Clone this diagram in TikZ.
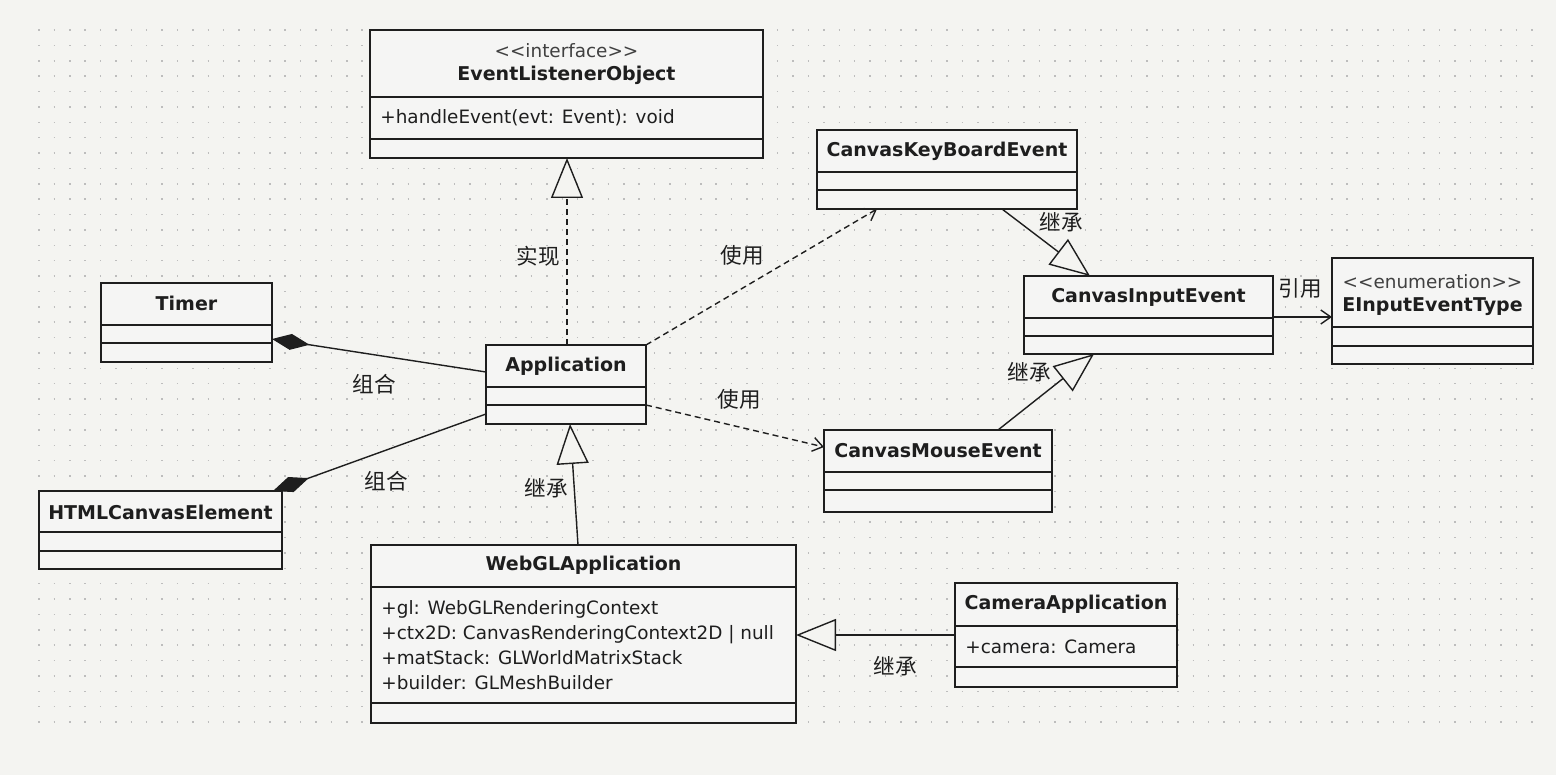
\documentclass[tikz,border=0pt]{standalone}
\usepackage{fontspec}
\setmainfont{DejaVu Sans}[Ligatures=TeXOff]
\newfontfamily\cjkfont{Noto Sans CJK SC}
\usetikzlibrary{arrows.meta,fit}

\definecolor{bgcol}{HTML}{F4F4F1}
\definecolor{boxcol}{HTML}{F5F5F4}
\definecolor{inkcol}{HTML}{1E1E1E}
\definecolor{dotcol}{HTML}{BDBDBD}

\tikzset{
  classbox/.style={draw=inkcol, fill=boxcol, line width=0.9pt, inner sep=0pt, outer sep=0pt},
  divider/.style={draw=inkcol, line width=0.9pt},
  ctitle/.style={font=\fontsize{9.5}{11}\selectfont\bfseries, text=inkcol, inner sep=0pt},
  cstereo/.style={font=\fontsize{9.2}{11}\selectfont, text=inkcol!85, inner sep=0pt},
  cattr/.style={font=\fontsize{9.2}{12.5}\selectfont, text=inkcol, inner sep=0pt, anchor=west, align=left},
  lbl/.style={font=\cjkfont\fontsize{10.8}{12}\selectfont, text=inkcol, inner sep=0pt},
  link/.style={draw=inkcol, line width=0.7pt},
  inherit/.style={link, -{Triangle[length=20pt, width=16pt, fill=bgcol]}},
  realize/.style={inherit, dash pattern=on 3pt off 2pt},
  depend/.style={link, dash pattern=on 3pt off 2pt, -{Straight Barb[length=5pt, width=7pt]}},
  compose/.style={link, -{Diamond[length=19pt, width=8pt]}},
  assoc/.style={link, -{Straight Barb[length=5pt, width=7pt]}}
}

\begin{document}
\begin{tikzpicture}[x=0.5pt, y=-0.5pt]
\fill[bgcol] (0,0) rectangle (1556,775);
\useasboundingbox (0,0) rectangle (1556,775);
\foreach \j in {0,...,45}
  \draw[dotcol, line width=0.75pt, dash pattern=on 0.75pt off 6.945pt] (38.25,{30+15.38*\j}) -- (1534,{30+15.38*\j});

% classes
\node[classbox, fit={(370,30) (763,158)}] (elo) {};
\draw[divider] (elo.west |- 0,97) -- (elo.east |- 0,97);
\draw[divider] (elo.west |- 0,139) -- (elo.east |- 0,139);
\node[cstereo] (eloS) at (566.5,51) {<<interface>>};
\node[ctitle] (eloT) at (566.5,75) {EventListenerObject};
\node[cattr] (eloA) at (380,118) {+handleEvent(evt: Event): void};

\node[classbox, fit={(817,130) (1077,209)}] (key) {};
\draw[divider] (key.west |- 0,172) -- (key.east |- 0,172);
\draw[divider] (key.west |- 0,190) -- (key.east |- 0,190);
\node[ctitle] (keyT) at (947,151) {CanvasKeyBoardEvent};

\node[classbox, fit={(1024,276) (1273,354)}] (input) {};
\draw[divider] (input.west |- 0,318) -- (input.east |- 0,318);
\draw[divider] (input.west |- 0,336) -- (input.east |- 0,336);
\node[ctitle] (inputT) at (1148.5,297) {CanvasInputEvent};

\node[classbox, fit={(1332,258) (1533,364)}] (enum) {};
\draw[divider] (enum.west |- 0,327) -- (enum.east |- 0,327);
\draw[divider] (enum.west |- 0,346) -- (enum.east |- 0,346);
\node[cstereo] (enumS) at (1432.5,282) {<<enumeration>>};
\node[ctitle] (enumT) at (1432.5,307) {EInputEventType};

\node[classbox, fit={(101,283) (272,362)}] (timer) {};
\draw[divider] (timer.west |- 0,325) -- (timer.east |- 0,325);
\draw[divider] (timer.west |- 0,343) -- (timer.east |- 0,343);
\node[ctitle] (timerT) at (186.5,303) {Timer};

\node[classbox, fit={(486,345) (646,424)}] (app) {};
\draw[divider] (app.west |- 0,387) -- (app.east |- 0,387);
\draw[divider] (app.west |- 0,405) -- (app.east |- 0,405);
\node[ctitle] (appT) at (566,366) {Application};

\node[classbox, fit={(824,430) (1052,512)}] (mouse) {};
\draw[divider] (mouse.west |- 0,472) -- (mouse.east |- 0,472);
\draw[divider] (mouse.west |- 0,490) -- (mouse.east |- 0,490);
\node[ctitle] (mouseT) at (938,451) {CanvasMouseEvent};

\node[classbox, fit={(39,491) (282,569)}] (html) {};
\draw[divider] (html.west |- 0,532) -- (html.east |- 0,532);
\draw[divider] (html.west |- 0,551) -- (html.east |- 0,551);
\node[ctitle] (htmlT) at (160.5,512) {HTMLCanvasElement};

\node[classbox, fit={(371,545) (796,723)}] (webgl) {};
\draw[divider] (webgl.west |- 0,587) -- (webgl.east |- 0,587);
\draw[divider] (webgl.west |- 0,703) -- (webgl.east |- 0,703);
\node[ctitle] (webglT) at (583.5,565) {WebGLApplication};
\node[cattr] (webglA) at (381,645.5) {+gl: WebGLRenderingContext\\+ctx2D: CanvasRenderingContext2D | null\\+matStack: GLWorldMatrixStack\\+builder: GLMeshBuilder};

\node[classbox, fit={(955,583) (1177,687)}] (camera) {};
\draw[divider] (camera.west |- 0,626) -- (camera.east |- 0,626);
\draw[divider] (camera.west |- 0,667) -- (camera.east |- 0,667);
\node[ctitle] (cameraT) at (1066,604) {CameraApplication};
\node[cattr] (cameraA) at (965,647) {+camera: Camera};

% relations
\draw[realize] (app.north -| 567,0) -- (elo.south -| 567,0);
\node[lbl] (lblReal) at (538,256) {实现};
\draw[depend] (app.north east) -- (key.south -| 877,0);
\node[lbl] (lblUseKey) at (742,255) {使用};
\draw[depend] (app.east |- 0,405) -- (mouse.west |- 0,447);
\node[lbl] (lblUseMouse) at (739,399) {使用};
\draw[compose] (app.west |- 0,372) -- (timer.east |- 0,339);
\node[lbl] (lblTimer) at (374,384) {组合};
\draw[compose] (app.west |- 0,414) -- (html.north -| 273,0);
\node[lbl] (lblHtml) at (386,481) {组合};
\draw[inherit] (webgl.north -| 578,0) -- (app.south -| 570,0);
\node[lbl] (lblWebgl) at (546,488) {继承};
\draw[inherit] (key.south -| 1002,0) -- (input.north -| 1090,0);
\node[lbl] (lblKey) at (1061,222) {继承};
\draw[inherit] (mouse.north -| 998,0) -- (input.south -| 1094,0);
\node[lbl] (lblMouse) at (1029,372) {继承};
\draw[inherit] (camera.west |- 0,635) -- (webgl.east |- 0,635);
\node[lbl] (lblCamera) at (895,666) {继承};
\draw[assoc] (input.east |- 0,317) -- (enum.west |- 0,317);
\node[lbl] (lblRef) at (1300,288) {引用};
\end{tikzpicture}
\end{document}
